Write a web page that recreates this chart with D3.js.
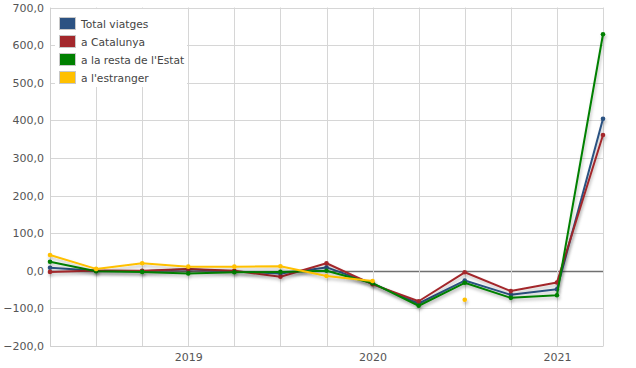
<!DOCTYPE html>
<html>
<head>
<meta charset="utf-8">
<script src="https://cdn.jsdelivr.net/npm/d3@7"></script>
<style>
  html, body { margin: 0; padding: 0; background: #fff; }
  svg { display: block; }
  text { font-family: "DejaVu Sans", Verdana, sans-serif; }
</style>
</head>
<body>
<svg id="chart" width="636" height="368"></svg>
<script>
// ---- data ----
const quarters = ["2018T2","2018T3","2018T4","2019T1","2019T2","2019T3","2019T4","2020T1","2020T2","2020T3","2020T4","2021T1","2021T2"];
const yearLabels = [["2019T1","2019"],["2020T1","2020"],["2021T1","2021"]];
const yTicks = [-200,-100,0,100,200,300,400,500,600,700];
const seriesNames = ["Total viatges","a Catalunya","a la resta de l'Estat","a l'estranger"];
const seriesColors = ["#2c5282","#a3282c","#008000","#ffc000"];
const totalViatges   = [8, 0, -1, 4, -2, -7, 9, -34, -87, -26, -64, -49, 404];
const aCatalunya     = [-3, 1, 0, 5, 0, -16, 20, -36, -81, -4, -54, -31, 361];
const aRestaEstat    = [24, -1, -3, -7, -4, -3, 0, -33, -93, -32, -72, -65, 629];
const aEstranger     = [42, 5, 20, 11, 11, 12, -14, -27, null, -77, null, null, null];
const seriesValues = [totalViatges, aCatalunya, aRestaEstat, aEstranger];

// ---- layout ----
const svg = d3.select("#chart");
const pLeft = 50, pRight = 603, pTop = 7.5, pBottom = 346;
const x = d3.scalePoint().domain(quarters).range([pLeft, pRight]);
const y = d3.scaleLinear().domain([-200, 700]).range([pBottom, pTop]);
const fmt = d3.formatLocale({decimal: ",", thousands: ".", grouping: [3], currency: ["", "€"]}).format(".1f");

const defs = svg.append("defs");
const f = defs.append("filter").attr("id", "shadow").attr("x", "-10%").attr("y", "-10%").attr("width", "120%").attr("height", "130%");
f.append("feDropShadow").attr("dx", 1).attr("dy", 2.5).attr("stdDeviation", 1.8)
  .attr("flood-color", "#000").attr("flood-opacity", 0.25);

// horizontal grid
svg.append("g").selectAll("line").data(yTicks).join("line")
  .attr("x1", pLeft).attr("x2", pRight)
  .attr("y1", d => Math.round(y(d)) + 0.5).attr("y2", d => Math.round(y(d)) + 0.5)
  .attr("stroke", d => d === 0 ? "#707070" : "#d6d6d6")
  .attr("stroke-width", d => d === 0 ? 1.3 : 1);

// vertical grid
svg.append("g").selectAll("line").data(quarters).join("line")
  .attr("x1", d => Math.round(x(d)) + 0.5).attr("x2", d => Math.round(x(d)) + 0.5)
  .attr("y1", pTop).attr("y2", pBottom)
  .attr("stroke", "#d6d6d6");

// y axis via d3.axisLeft
const yAxis = svg.append("g").attr("transform", `translate(${pLeft},0)`)
  .call(d3.axisLeft(y).tickValues(yTicks).tickFormat(fmt).tickSize(0).tickPadding(6));
yAxis.select(".domain").attr("stroke", "#d0d0d0");
yAxis.selectAll("text").attr("fill", "#555").style("font-size", "11px")
  .style("font-family", "'DejaVu Sans', Verdana, sans-serif");

// x axis labels
const xAxis = svg.append("g").attr("transform", `translate(0,${pBottom})`)
  .call(d3.axisBottom(x).tickValues(yearLabels.map(d => d[0]))
    .tickFormat(d => yearLabels.find(e => e[0] === d)[1]).tickSize(0).tickPadding(7));
xAxis.select(".domain").attr("stroke", "#d0d0d0");
xAxis.selectAll("text").attr("fill", "#555").style("font-size", "11px")
  .style("font-family", "'DejaVu Sans', Verdana, sans-serif");

// series
const line = d3.line().defined(d => d[1] != null).x(d => x(d[0])).y(d => y(d[1]));
seriesValues.forEach((vals, i) => {
  const pts = quarters.map((q, j) => [q, vals[j]]);
  const g = svg.append("g").attr("filter", "url(#shadow)");
  g.append("path").datum(pts).attr("d", line)
    .attr("fill", "none").attr("stroke", seriesColors[i]).attr("stroke-width", 2)
    .attr("stroke-linejoin", "round");
  g.selectAll("circle").data(pts.filter(d => d[1] != null)).join("circle")
    .attr("cx", d => x(d[0])).attr("cy", d => y(d[1])).attr("r", 2.3)
    .attr("fill", seriesColors[i]);
});

// legend
const lg = svg.append("g");
lg.append("rect").attr("x", 55).attr("y", 9).attr("width", 132).attr("height", 78).attr("fill", "#fff");
seriesNames.forEach((n, i) => {
  const yy = 17 + i * 18;
  lg.append("rect").attr("x", 59.5).attr("y", yy + 0.5).attr("width", 16).attr("height", 12)
    .attr("fill", seriesColors[i]).attr("stroke", "#c8c8c8");
  lg.append("text").attr("x", 81).attr("y", yy + 10.5).text(n)
    .attr("fill", "#444").style("font-size", "10.7px");
});
</script>
</body>
</html>
